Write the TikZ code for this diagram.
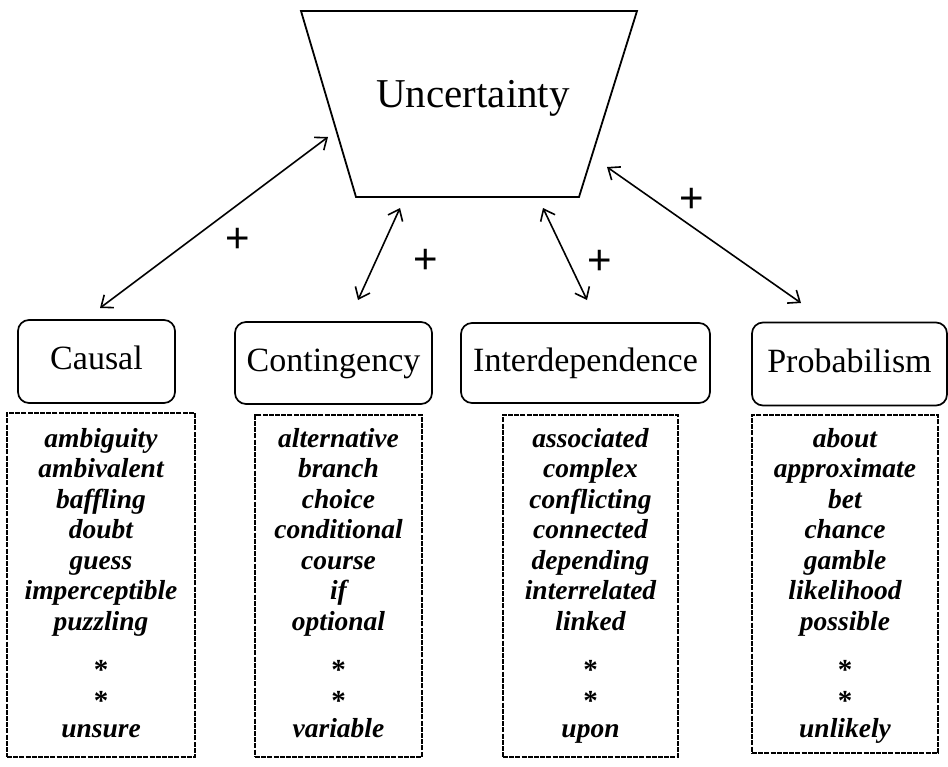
\documentclass[tikz,border=0pt]{standalone}
\usepackage{fontspec}
\setmainfont{Liberation Serif}
\newfontfamily\plusfont{Liberation Sans}
\usetikzlibrary{arrows.meta}

% one column of key words under a category
\newcommand\wordcolumn[4]{% #1 name, #2 x centre, #3 seven words, #4 last word
  \foreach \w [count=\i] in {#3}{
    \node[word] (#1-\i) at (#2, {447+30.5*(\i-1)}) {\w};
  }
  \node[star] (#1-s1) at (#2,673) {*};
  \node[star] (#1-s2) at (#2,704) {*};
  \node[word] (#1-last) at (#2,737) {#4};
}

\begin{document}
\begin{tikzpicture}[x=1pt,y=-1pt,
  frame/.style={draw, line width=1.8pt, line join=miter},
  catbox/.style={draw, line width=1.7pt, rounded corners=11pt, inner sep=0pt,
    text height=24pt, text depth=8pt, font=\fontsize{34}{40}\selectfont},
  listbox/.style={draw, line width=2pt, dash pattern=on 5pt off 1.2pt, inner sep=0pt},
  word/.style={anchor=base, inner sep=0pt, font=\fontsize{27.5}{30}\selectfont\bfseries\itshape},
  star/.style={anchor=center, inner sep=0pt, text height=12pt, text depth=0pt,
    font=\fontsize{29}{30}\selectfont\bfseries},
  plus/.style={inner sep=0pt, font=\plusfont\fontsize{42}{42}\selectfont},
  link/.style={line width=1.6pt,
    {Straight Barb[length=10pt,width=16pt]}-{Straight Barb[length=10pt,width=16pt]}}
]
\useasboundingbox (0,0) rectangle (948,766);

% central trapezoid
\draw[frame] (301,11) -- (637,11) -- (579,197) -- (356,197) -- cycle;
\node[anchor=base, inner sep=0pt, font=\fontsize{41}{46}\selectfont] (unc) at (473,107) {Uncertainty};

% category boxes
\node[catbox, minimum width=157pt, minimum height=83pt] (causal) at (96.5,361.5) {Causal};
\node[catbox, minimum width=197pt, minimum height=82pt] (conting) at (333.5,363) {Contingency};
\node[catbox, minimum width=249pt, minimum height=80pt] (interdep) at (585.5,363) {Interdependence};
\node[catbox, minimum width=195pt, minimum height=83pt] (probab) at (849.5,364) {Probabilism};

% dashed word lists
\node[listbox, minimum width=188pt, minimum height=344pt] (causal-list) at (101,585) {};
\node[listbox, minimum width=167pt, minimum height=342pt] (conting-list) at (338.5,586) {};
\node[listbox, minimum width=175pt, minimum height=342pt] (interdep-list) at (590.5,586) {};
\node[listbox, minimum width=186pt, minimum height=338pt] (probab-list) at (845,584) {};

\wordcolumn{cw}{101}{ambiguity,ambivalent,baffling,doubt,guess,imperceptible,puzzling}{unsure}
\wordcolumn{gw}{338.5}{alternative,branch,choice,conditional,course,if,optional}{variable}
\wordcolumn{iw}{590.5}{associated,complex,conflicting,connected,depending,interrelated,linked}{upon}
\wordcolumn{pw}{845}{about,approximate,bet,chance,gamble,likelihood,possible}{unlikely}

% two-headed links between the categories and the trapezoid
\coordinate (l1a) at (100,308);  \coordinate (l1b) at (328,137);
\coordinate (l2a) at (358,300);  \coordinate (l2b) at (400,208);
\coordinate (l3a) at (587,300);  \coordinate (l3b) at (543,208);
\coordinate (l4a) at (801,303);  \coordinate (l4b) at (607,167);
\draw[link] (l1a) -- (l1b);
\draw[link] (l2a) -- (l2b);
\draw[link] (l3a) -- (l3b);
\draw[link] (l4a) -- (l4b);

% signs on the links
\node[plus] (s1) at (238,240) {+};
\node[plus] (s2) at (426,261) {+};
\node[plus] (s3) at (600,262) {+};
\node[plus] (s4) at (692,200) {+};
\end{tikzpicture}
\end{document}
